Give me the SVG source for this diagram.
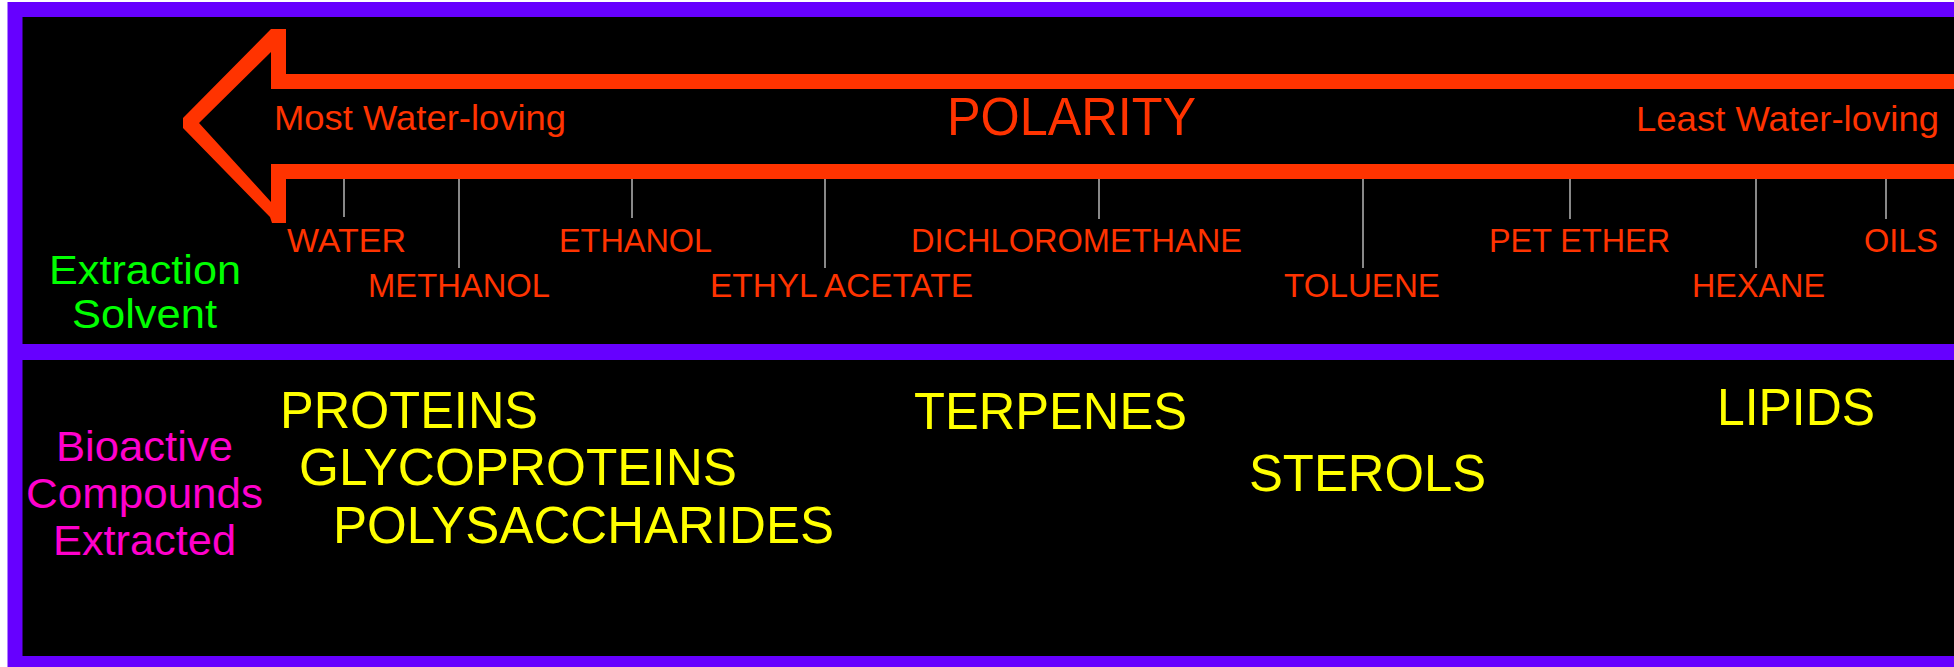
<svg xmlns="http://www.w3.org/2000/svg" width="1954" height="667" viewBox="0 0 1954 667">
<style>
text { font-family: "Liberation Sans Narrow", "Liberation Sans", Arial, sans-serif; }
.sol { fill: #ff3300; font-size: 33px; }
.pol { fill: #ff3300; }
.cmp { fill: #ffff00; font-size: 52px; }
.grn { fill: #00ff00; font-size: 41px; }
.mag { fill: #ff00cc; font-size: 43px; }
.tick { stroke: #888888; stroke-width: 2; fill: none; }
</style>
<rect x="0" y="0" width="1954" height="667" fill="#ffffff"/>
<g id="frame">
<rect x="15" y="9.5" width="2000" height="654" fill="#000000" stroke="#6600ff" stroke-width="15"/>
<line x1="8" y1="352" x2="1960" y2="352" stroke="#6600ff" stroke-width="16"/>
</g>
<g id="arrow">
<polygon fill="#ff3300" points="1960,74 286,74 286,29 271,29 183,118 183,128 270,217 272,223 286,223 286,179 1960,179 1960,164 271,164 271,202 199,123 271,52 271,89 1960,89"/>
<text class="pol" x="274" y="130" font-size="35" textLength="292" lengthAdjust="spacingAndGlyphs">Most Water-loving</text>
<text class="pol" x="947" y="135" font-size="53" textLength="249" lengthAdjust="spacingAndGlyphs">POLARITY</text>
<text class="pol" x="1636" y="131" font-size="35" textLength="303" lengthAdjust="spacingAndGlyphs">Least Water-loving</text>
</g>
<g id="connectors">
<line class="tick" x1="344" y1="179" x2="344" y2="217"/>
<line class="tick" x1="459" y1="179" x2="459" y2="268"/>
<line class="tick" x1="632" y1="179" x2="632" y2="218"/>
<line class="tick" x1="825" y1="179" x2="825" y2="268"/>
<line class="tick" x1="1099" y1="179" x2="1099" y2="219"/>
<line class="tick" x1="1363" y1="179" x2="1363" y2="268"/>
<line class="tick" x1="1570" y1="179" x2="1570" y2="219"/>
<line class="tick" x1="1756" y1="179" x2="1756" y2="268"/>
<line class="tick" x1="1886" y1="179" x2="1886" y2="219"/>
</g>
<g id="solvent-label">
<text class="grn" x="49" y="284" textLength="192" lengthAdjust="spacingAndGlyphs">Extraction</text>
<text class="grn" x="72" y="328" textLength="145" lengthAdjust="spacingAndGlyphs">Solvent</text>
</g>
<g id="water"><text class="sol" x="287" y="252" textLength="119" lengthAdjust="spacingAndGlyphs">WATER</text></g>
<g id="methanol"><text class="sol" x="368" y="297" textLength="182" lengthAdjust="spacingAndGlyphs">METHANOL</text></g>
<g id="ethanol"><text class="sol" x="559" y="252" textLength="153" lengthAdjust="spacingAndGlyphs">ETHANOL</text></g>
<g id="ethyl-acetate"><text class="sol" x="710" y="297" textLength="263" lengthAdjust="spacingAndGlyphs">ETHYL ACETATE</text></g>
<g id="dichloromethane"><text class="sol" x="911" y="252" textLength="331" lengthAdjust="spacingAndGlyphs">DICHLOROMETHANE</text></g>
<g id="toluene"><text class="sol" x="1284" y="297" textLength="156" lengthAdjust="spacingAndGlyphs">TOLUENE</text></g>
<g id="pet-ether"><text class="sol" x="1489" y="252" textLength="181" lengthAdjust="spacingAndGlyphs">PET ETHER</text></g>
<g id="hexane"><text class="sol" x="1692" y="297" textLength="133" lengthAdjust="spacingAndGlyphs">HEXANE</text></g>
<g id="oils"><text class="sol" x="1864" y="252" textLength="74" lengthAdjust="spacingAndGlyphs">OILS</text></g>
<g id="compounds-label">
<text class="mag" x="56" y="461" textLength="177" lengthAdjust="spacingAndGlyphs">Bioactive</text>
<text class="mag" x="26" y="508" textLength="237" lengthAdjust="spacingAndGlyphs">Compounds</text>
<text class="mag" x="53" y="555" textLength="183" lengthAdjust="spacingAndGlyphs">Extracted</text>
</g>
<g id="proteins"><text class="cmp" x="280" y="428" textLength="258" lengthAdjust="spacingAndGlyphs">PROTEINS</text></g>
<g id="glycoproteins"><text class="cmp" x="299" y="485" textLength="438" lengthAdjust="spacingAndGlyphs">GLYCOPROTEINS</text></g>
<g id="polysaccharides"><text class="cmp" x="333" y="543" textLength="501" lengthAdjust="spacingAndGlyphs">POLYSACCHARIDES</text></g>
<g id="terpenes"><text class="cmp" x="914" y="429" textLength="273" lengthAdjust="spacingAndGlyphs">TERPENES</text></g>
<g id="sterols"><text class="cmp" x="1249" y="491" textLength="237" lengthAdjust="spacingAndGlyphs">STEROLS</text></g>
<g id="lipids"><text class="cmp" x="1717" y="425" textLength="158" lengthAdjust="spacingAndGlyphs">LIPIDS</text></g>
</svg>
